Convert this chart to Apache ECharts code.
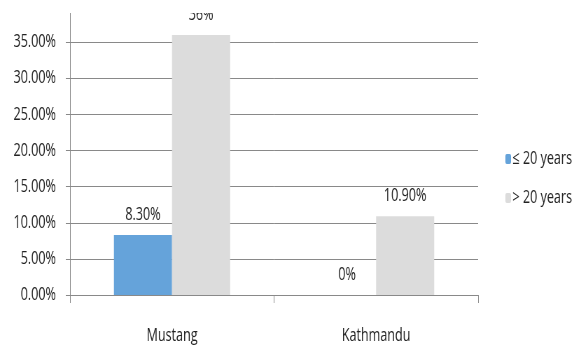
<!DOCTYPE html>
<html>
<head>
<meta charset="utf-8">
<script src="https://cdn.jsdelivr.net/npm/echarts@6/dist/echarts.min.js"></script>
<style>
  html, body { margin: 0; padding: 0; background: #fff; overflow: hidden; }
  /* the original picture is squeezed sideways, so draw wider and squeeze */
  #wrap { width: 575px; height: 345px; overflow: hidden; }
  #chart { width: 822px; height: 345px; transform: scaleX(0.7); transform-origin: 0 0; }
</style>
</head>
<body>
<div id="wrap"><div id="chart"></div></div>
<script>
// data
const places = ['Mustang', 'Kathmandu'];
const upTo20 = [8.3, 0];
const over20 = [36, 10.9];
const upTo20Labels = ['8.30%', '0%'];
const over20Labels = ['36%', '10.90%'];
const seriesNames = ['\u2264 20 years', '> 20 years'];

const font = '"Open Sans", "DejaVu Sans Condensed", sans-serif';
const axisGray = '#898989';
const textColor = '#222';

const chart = echarts.init(document.getElementById('chart'));

function valueLabel(texts) {
  return {
    show: true,
    position: 'top',
    distance: 11,
    fontFamily: font,
    fontSize: 18,
    color: textColor,
    formatter: p => texts[p.dataIndex]
  };
}

const option = {
  animation: false,
  textStyle: { fontFamily: font },
  grid: { left: 100, right: 139, top: 6, bottom: 46 },
  // top strip of the source image is blanked out
  graphic: [{
    type: 'rect',
    left: 0, top: 0, z: 100,
    shape: { width: 822, height: 13 },
    style: { fill: '#fff' }
  }],
  legend: {
    orient: 'vertical',
    left: 717,
    top: 145,
    itemWidth: 8,
    itemHeight: 10,
    itemGap: 21,
    textStyle: { fontFamily: font, fontSize: 18, color: textColor, padding: [0, 0, 0, -3] },
    data: seriesNames
  },
  xAxis: {
    type: 'category',
    data: places,
    axisLine: { lineStyle: { color: axisGray } },
    axisTick: { show: true, length: 8, lineStyle: { color: axisGray } },
    axisLabel: { margin: 32, fontFamily: font, fontSize: 18, color: textColor }
  },
  yAxis: {
    type: 'value',
    min: 0,
    max: 40,
    interval: 5,
    axisLine: { show: true, lineStyle: { color: axisGray } },
    axisTick: { show: true, length: 6, lineStyle: { color: axisGray } },
    axisLabel: {
      margin: 20,
      showMaxLabel: false,
      fontFamily: font,
      fontSize: 18,
      color: textColor,
      formatter: v => v.toFixed(2) + '%'
    },
    splitLine: { lineStyle: { color: axisGray }, showMaxLine: false }
  },
  series: [
    {
      name: seriesNames[0],
      type: 'bar',
      data: upTo20,
      barWidth: 83,
      barGap: '0%',
      itemStyle: { color: '#65a3da' },
      label: valueLabel(upTo20Labels)
    },
    {
      name: seriesNames[1],
      type: 'bar',
      data: over20,
      barWidth: 83,
      barGap: '0%',
      itemStyle: { color: '#dcdcdc' },
      label: valueLabel(over20Labels)
    }
  ]
};

chart.setOption(option);
</script>
</body>
</html>
